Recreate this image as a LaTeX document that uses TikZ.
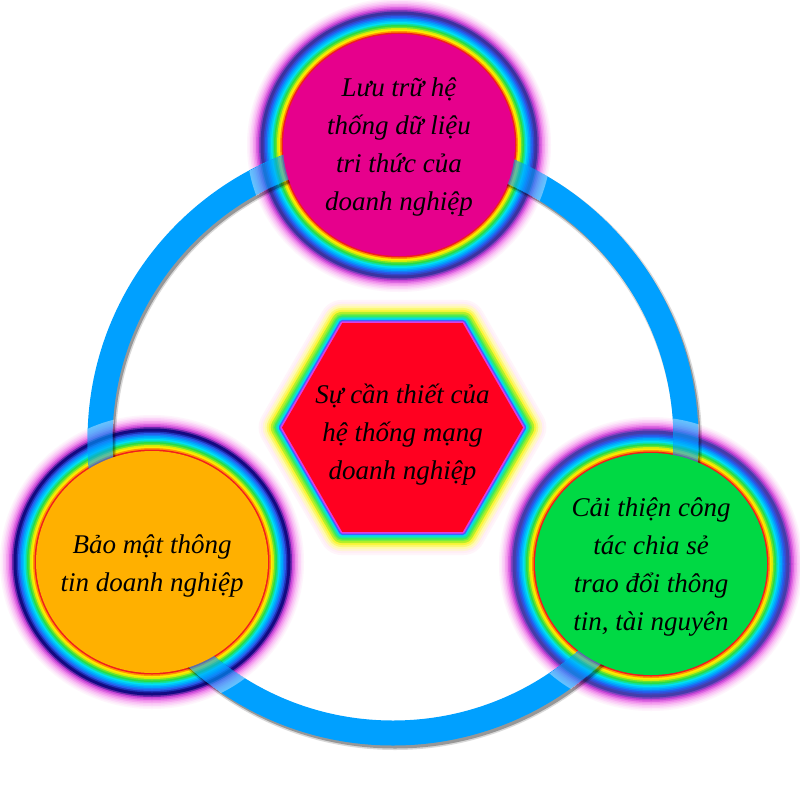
\documentclass[tikz,border=0pt]{standalone}
\usepackage{fontspec}
\setmainfont{Liberation Serif}
\usetikzlibrary{shapes.geometric,backgrounds}
\definecolor{ringblue}{RGB}{0,160,255}
\definecolor{fillmag}{RGB}{230,0,140}
\definecolor{fillorange}{RGB}{255,176,0}
\definecolor{fillgreen}{RGB}{0,217,68}
\definecolor{fillred}{RGB}{255,0,32}
\definecolor{rbgA}{RGB}{253,232,250}
\definecolor{rbgB}{RGB}{250,195,245}
\definecolor{rbgC}{RGB}{240,140,236}
\definecolor{rbgD}{RGB}{200,70,215}
\definecolor{rbblue}{RGB}{40,90,235}
\definecolor{rbsky}{RGB}{0,165,255}
\definecolor{rbcyan}{RGB}{0,225,240}
\definecolor{rbgreen}{RGB}{40,220,70}
\definecolor{rblime}{RGB}{170,235,20}
\definecolor{rbyellow}{RGB}{255,235,0}
\definecolor{rborange}{RGB}{255,150,0}
\definecolor{rbred}{RGB}{240,30,30}
\definecolor{darkA}{RGB}{60,50,160}
\definecolor{darkB}{RGB}{20,10,130}
\definecolor{darkC}{RGB}{70,60,170}
\definecolor{hxA}{RGB}{255,238,246}
\definecolor{hxB}{RGB}{255,250,175}
\definecolor{hxC}{RGB}{250,245,60}
\definecolor{hxD}{RGB}{180,240,40}
\definecolor{hxE}{RGB}{60,235,90}
\definecolor{hxF}{RGB}{0,220,240}
\definecolor{hxG}{RGB}{60,100,255}
\definecolor{hxH}{RGB}{220,60,230}
\newcommand\rainbowdisk[4]{%
  \foreach \o/\c in {36/rbgA!50!white,34.5/rbgA,33/rbgB!50!rbgA,31.5/rbgB,30/rbgC!50!rbgB,28.5/rbgC,27/rbgD!50!rbgC,25.5/rbgD,24/#4!50!rbgD,22.5/#4,21/#4,19.5/#4!50!rbblue,18/rbblue,16.5/rbblue!50!rbsky,15/rbsky,13.5/rbsky!50!rbcyan,12/rbcyan,10.5/rbcyan!50!rbgreen,9/rbgreen,7.5/rbgreen!50!rblime,6/rblime!50!rbyellow,4.5/rbyellow,3/rborange,1.5/rbred}
    {\fill[\c] (#1) ellipse [x radius=#2+\o, y radius=#3+\o];}%
}
\begin{document}
\begin{tikzpicture}[x=1pt,y=-1pt,
  txt/.style={font=\fontsize{27}{38}\selectfont\itshape, align=center, text=black, inner sep=0pt},
  bubble/.style={ellipse, minimum width=232pt, minimum height=222pt, inner sep=0pt},
  hexshape/.style={regular polygon, regular polygon sides=6, minimum size=241pt, inner sep=0pt},
  hexglow/.style={line join=round}]
\useasboundingbox (0,0) rectangle (800,800);
\coordinate (rc) at (393,440);
\node[bubble, fill=fillmag] (top) at (399,145) {};
\node[bubble, fill=fillorange] (left) at (152,562) {};
\node[bubble, fill=fillgreen] (right) at (651,564) {};
\node[hexshape, fill=fillred] (hex) at (402.5,427.5) {};
\node[txt] (toptext) at ([yshift=-2pt]top.center) {Lưu trữ hệ\\thống dữ liệu\\tri thức của\\doanh nghiệp};
\node[txt] (lefttext) at ([yshift=-4pt]left.center) {Bảo mật thông\\tin doanh nghiệp};
\node[txt] (righttext) at ([yshift=-3pt]right.center) {Cải thiện công\\tác chia sẻ\\trao đổi thông\\tin, tài nguyên};
\node[txt] (hextext) at ([yshift=-7pt]hex.center) {Sự cần thiết của\\hệ thống mạng\\doanh nghiệp};
\begin{pgfonlayer}{background}
\fill[white] (0,0) rectangle (800,800);
\rainbowdisk{top.center}{116}{111}{darkA}
\rainbowdisk{left.center}{116}{111}{darkB}
\rainbowdisk{right.center}{116}{111}{darkC}
\foreach \w/\c in {46/hxA!60!white,42/hxA,38/hxA!50!hxB,34/hxB,30/hxB!50!hxC,26/hxC,22/hxD,18/hxD!50!hxE,15/hxE,12/hxE!50!hxF,9/hxF,6/hxG,3/hxH}
  {\draw[hexglow, \c, line width=\w pt] (hex.corner 1) -- (hex.corner 2) -- (hex.corner 3) -- (hex.corner 4) -- (hex.corner 5) -- (hex.corner 6) -- cycle;}
\draw[black, opacity=.15, line width=28pt] ([shift={(2,3)}]rc) circle [radius=293];
\draw[black, opacity=.3, line width=25pt] ([shift={(2,3)}]rc) circle [radius=293];
\draw[ringblue, line width=25pt] (rc) circle [radius=293];
\begin{scope}[even odd rule]
\clip (rc) circle [radius=305.5] (rc) circle [radius=280.5];
\begin{scope}[transparency group, opacity=.4]
\rainbowdisk{top.center}{116}{111}{darkA}
\rainbowdisk{left.center}{116}{111}{darkB}
\rainbowdisk{right.center}{116}{111}{darkC}
\end{scope}
\end{scope}
\end{pgfonlayer}
\end{tikzpicture}
\end{document}
